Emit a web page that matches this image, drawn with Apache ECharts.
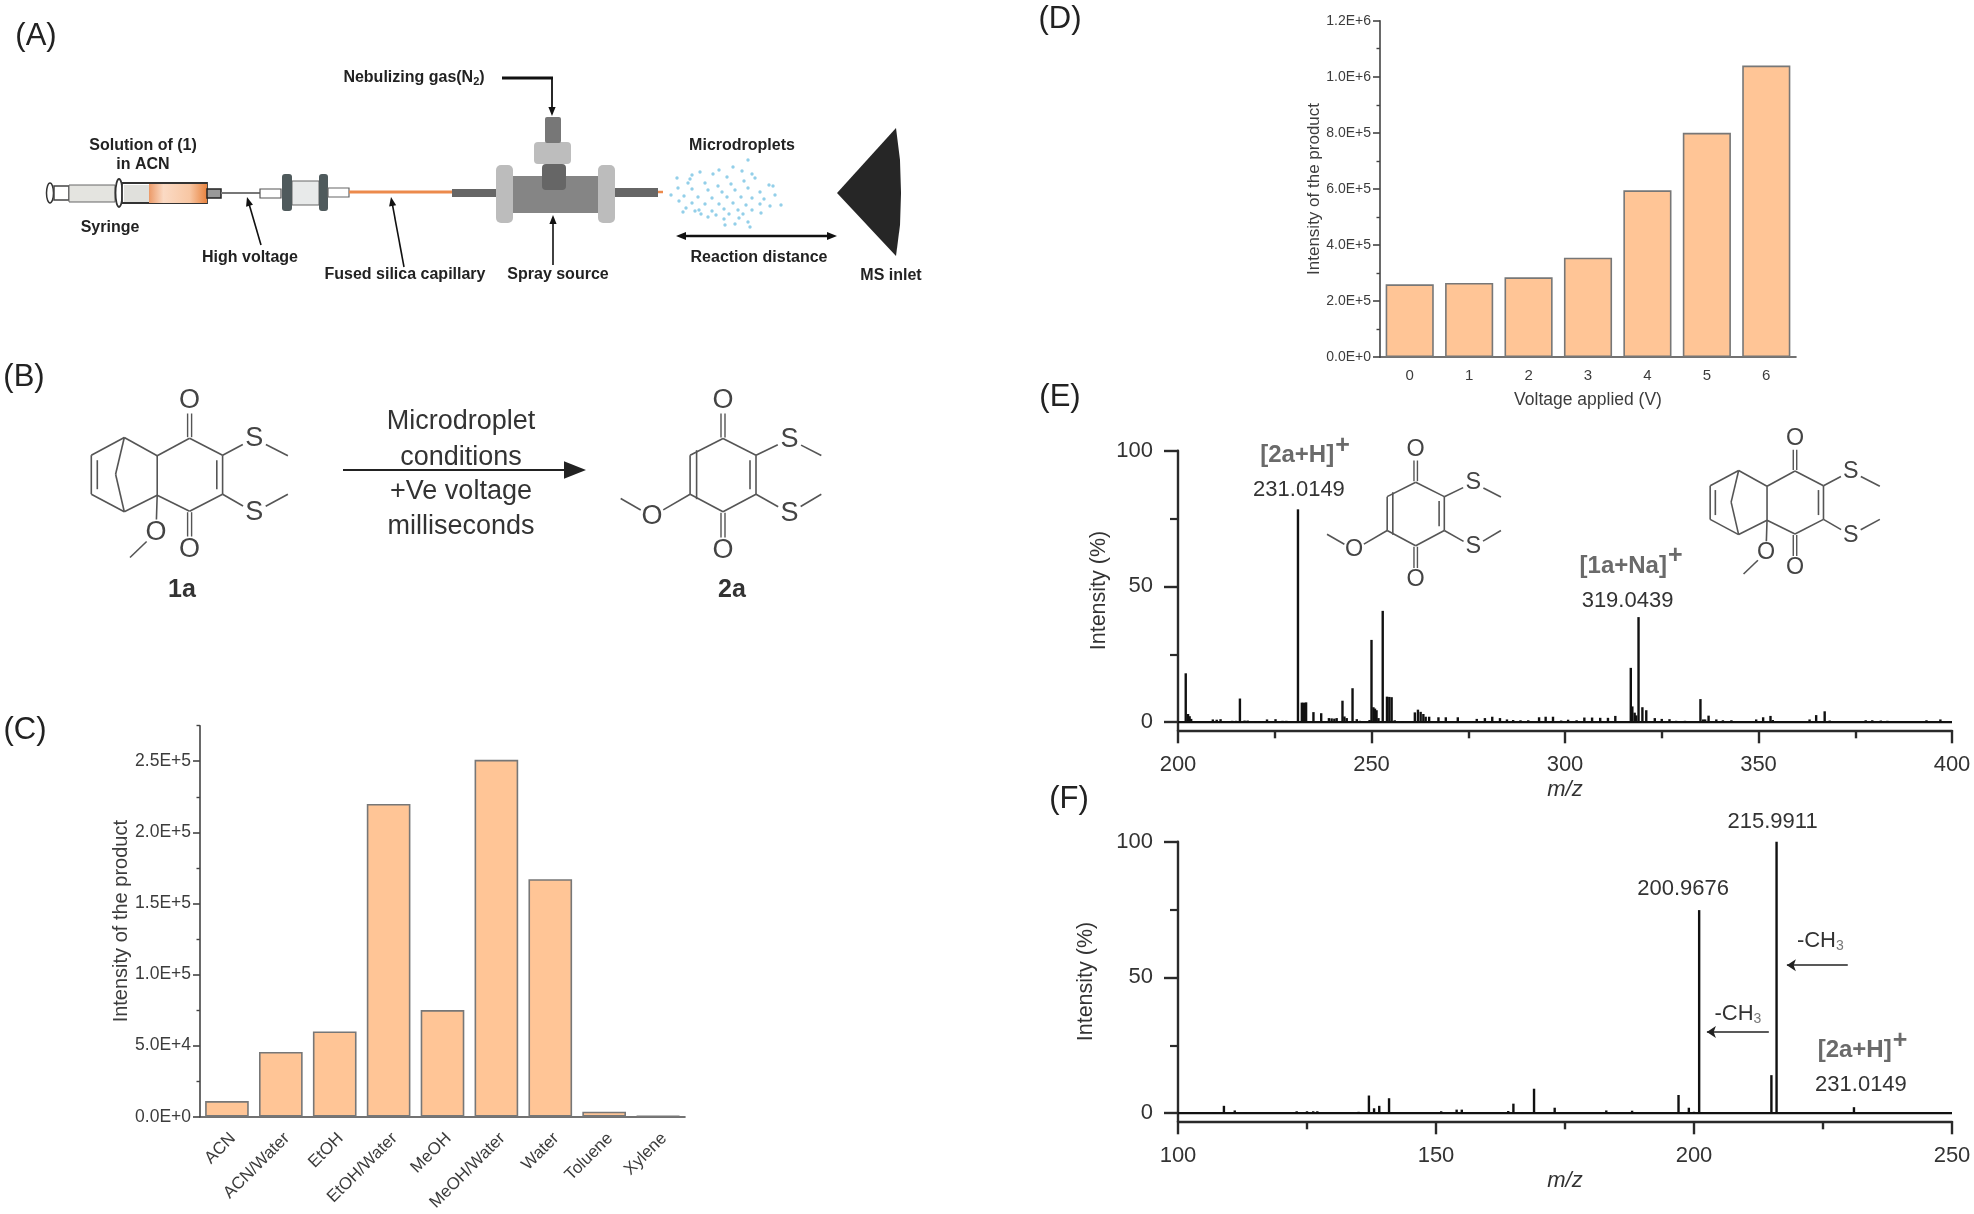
<!DOCTYPE html>
<html><head><meta charset="utf-8">
<style>html,body{margin:0;padding:0;background:#fff}#c{width:1974px;height:1214px}</style>
<script src="https://cdn.jsdelivr.net/npm/echarts@6/dist/echarts.min.js"></script>
</head><body><div id="c"></div>
<script>
// ---------- panel C ----------
const solvents = ['ACN','ACN/Water','EtOH','EtOH/Water','MeOH','MeOH/Water','Water','Toluene','Xylene'];
const solventIntensity = [11000,45500,60000,220000,75000,251000,167000,3500,500];
const cMajorTicks = [0,50000,100000,150000,200000,250000];
const cMinorTicks = [25000,75000,125000,175000,225000,275000];
// ---------- panel D ----------
const voltages = ['0','1','2','3','4','5','6'];
const voltageIntensity = [260000,265000,285000,355000,595000,800000,1040000];
const dMajorTicks = [0,200000,400000,600000,800000,1000000,1200000];
const dMinorTicks = [100000,300000,500000,700000,900000,1100000];
// ---------- panel E spectrum: [m/z, intensity %] ----------
const spectrumE = [[202,18],[202.6,3],[203,2.2],[203.4,1.2],[209,1],[210,.9],[211,1.1],[214,.5],[215,.5],[216,8.7],[217.2,.6],[218,.6],[220,.4],[221,.4],[223,1],[225.2,1.1],[227,.5],[228,.5],[229,.4],[231,78.4],[232,7.2],[232.5,7.2],[233.1,7.3],[235,3.7],[237,3.3],[239,1.5],[239.7,1.4],[240.4,1.3],[241,1.5],[242.5,7.9],[243,2.1],[243.6,1.5],[245.1,12.5],[246.2,1.1],[247,.5],[249.5,.8],[250,30.3],[250.5,5.5],[250.9,5],[251.3,4.4],[251.8,1.5],[252.9,41],[254,9.4],[254.6,9.3],[255.2,9.2],[256,.7],[258,.4],[261.2,3.6],[262,4.6],[262.7,3.8],[263.4,3],[264,2],[264.9,2],[267.3,1.8],[269.2,1.8],[272.3,1.8],[277.2,1.2],[279.3,1.5],[281.2,2],[283.2,1.5],[285,1],[286.6,.8],[288.5,.7],[290.5,.7],[293.3,1.8],[295,2],[296.9,2],[299,.6],[300.8,.9],[303,.7],[305,1.7],[307,1.7],[309.1,1.6],[311.1,1.6],[313,2.3],[317,20],[317.4,5.8],[318,3.5],[318.4,2.5],[319,38.7],[320,5.5],[321,4.4],[323.2,1.5],[325,1.2],[327,1.1],[328.7,.5],[331,.5],[335,8.5],[335.7,1],[336.2,1],[337.1,2.4],[339.1,1],[340.8,.7],[343,.7],[349.4,1],[351.2,1.8],[353.1,2.3],[353.7,.8],[363.2,1],[364.9,2.6],[367.1,4],[368.4,.6],[377.7,.7],[379.4,.7],[381.6,.6],[383.3,.5],[393.4,.7],[397,1]];
// ---------- panel F spectrum ----------
const spectrumF = [[107,.3],[108.9,2.7],[111,1],[113,.3],[123,.7],[125,.7],[126.2,.7],[127,.7],[135,.5],[137,6.5],[138,1.8],[139,2.7],[140.9,5.5],[151,.7],[154,1.3],[155,1.3],[164,.8],[165,3.5],[166.8,.4],[169,9],[173,2],[182,.4],[183,1],[185,.4],[188,.9],[197,6.7],[199,2],[200,.5],[201,74.8],[215,14],[216,100],[231,2.2]];
const spectrumXTicks = {E:[200,400,50],F:[100,250,50]};
const pctMajor = [0,50,100], pctMinor = [25,75];
const peakLabelsE = {231:['[2a+H]','231.0149'],319:['[1a+Na]','319.0439']};
const peakLabelsF = {201:'200.9676',216:'215.9911',231:['[2a+H]','231.0149']};
// neutral-loss arrows in F: [from m/z, to m/z, at intensity]
const lossArrows = [[229.8,218,54.5],[214.5,202.5,29.9]];

const FONT = '"Liberation Sans", Arial, sans-serif';
const AX = '#2a2a2a', TXT='#3c3c3c';

// ---------- illustration helpers ----------
const G = [];
const line=(x1,y1,x2,y2,w=1.5,c='#555')=>G.push({type:'line',shape:{x1,y1,x2,y2},style:{stroke:c,lineWidth:w},silent:true});
const rect=(x,y,w,h,fill,r=0,stroke,lw=1)=>G.push({type:'rect',shape:{x,y,width:w,height:h,r},style:{fill,stroke,lineWidth:lw},silent:true});
const ell=(cx,cy,rx,ry,fill,stroke,lw=1)=>G.push({type:'ellipse',shape:{cx,cy,rx,ry},style:{fill,stroke,lineWidth:lw},silent:true});
const poly=(points,fill)=>G.push({type:'polygon',shape:{points},style:{fill},silent:true});
const text=(t,x,y,size,opts={})=>G.push({type:'text',style:Object.assign({text:t,x,y,fill:opts.fill||'#222',align:opts.align||'center',verticalAlign:'middle',font:`${opts.weight||'normal'} ${size}px ${FONT}`},opts.rich?{rich:opts.rich}:{}),silent:true});
function arrow(x1,y1,x2,y2,w=1.6,h=9,c='#111'){
  const a=Math.atan2(y2-y1,x2-x1),ux=Math.cos(a),uy=Math.sin(a);
  line(x1,y1,x2-ux*h*.7,y2-uy*h*.7,w,c);
  poly([[x2,y2],[x2-ux*h-uy*h*.4,y2-uy*h+ux*h*.4],[x2-ux*h+uy*h*.4,y2-uy*h-ux*h*.4]],c);
}
// ---------- molecules ----------
const mol1a={C1:[0,-37],C2:[33,-20],C3:[33,19],C4:[0,36],C4a:[-32.4,20],C8a:[-32.4,-19.4],C5:[-65.3,-37.7],C6:[-98.3,-20],C7:[-98.3,19],C8:[-65.3,36.6],C9:[-74,-1],
 O1:[0,-74.7,'O'],O2:[0,74.3,'O'],S1:[64.7,-36.7,'S'],S2:[64.7,37.3,'S'],M1:[98.3,-19.4],M2:[98.3,19],O3:[-33.6,57.3,'O'],M3:[-59.6,82.3]};
const bonds1a=[['C1','C2'],['C2','C3'],['C3','C4'],['C4','C4a'],['C4a','C8a'],['C8a','C1'],['C8a','C5'],['C5','C6'],['C6','C7'],['C7','C8'],['C8','C4a'],['C5','C9'],['C9','C8'],['C2','S1'],['S1','M1'],['C3','S2'],['S2','M2'],['C4a','O3'],['O3','M3']];
const ringDbl1a=[['C2','C3',-5.8],['C6','C7',6]];
const mol2a={C1:[0,-36.7],C2:[33,-20],C3:[33,19],C4:[0,36.6],C5:[-32.9,19],C6:[-32.9,-20],
 O1:[0,-74.7,'O'],O2:[0,75.3,'O'],S1:[66.5,-36,'S'],S2:[66.5,38,'S'],M1:[98.3,-19.7],M2:[98.3,19],O3:[-71,41.3,'O'],M3:[-102.3,23.3]};
const bonds2a=[['C1','C2'],['C2','C3'],['C3','C4'],['C4','C5'],['C5','C6'],['C6','C1'],['C2','S1'],['S1','M1'],['C3','S2'],['S2','M2'],['C5','O3'],['O3','M3']];
const ringDbl2a=[['C2','C3',-6],['C5','C6',6.5]];
function drawMol(atoms,bonds,dbl,cx,cy,s,c='#555'){
  const P=n=>atoms[n], X=p=>cx+p[0]*s, Y=p=>cy+p[1]*s;
  const trim=13*s;
  const seg=(a,b)=>{const A=P(a),B=P(b);let x1=X(A),y1=Y(A),x2=X(B),y2=Y(B);const d=Math.hypot(x2-x1,y2-y1),ux=(x2-x1)/d,uy=(y2-y1)/d;
    if(A[2]){x1+=ux*trim;y1+=uy*trim} if(B[2]){x2-=ux*trim;y2-=uy*trim} line(x1,y1,x2,y2,1.6,c);};
  bonds.forEach(b=>seg(b[0],b[1]));
  dbl.forEach(([a,b,dx])=>{const A=P(a),B=P(b);line(X(A)+dx*s,Y(A)+5*s,X(B)+dx*s,Y(B)-5*s,1.6,c);});
  [['C1','O1'],['C4','O2']].forEach(([a,b])=>{const A=P(a),B=P(b),sgn=B[1]>A[1]?1:-1;
    line(X(A)-2*s,Y(A)+sgn*1,X(B)-2*s,Y(B)-sgn*trim,1.4,c);line(X(A)+2*s,Y(A)+sgn*1,X(B)+2*s,Y(B)-sgn*trim,1.4,c);});
  Object.values(atoms).forEach(a=>{if(a[2])text(a[2],X(a),Y(a),27*s,{fill:'#444'});});
}
// ---------- panel letters ----------
[['(A)',36,36],['(B)',24,377],['(C)',25,730],['(D)',1060,19],['(E)',1060,397],['(F)',1069,799]].forEach(l=>text(l[0],l[1],l[2],31,{fill:'#222'}));

// ---------- panel A : apparatus ----------
const dropletPts=[[748,160],[733,167],[719,170],[700,172],[692,175],[713,174],[727,177],[742,171],[752,174],[690,179],[677,178],[688,183],[705,183],[718,186],[731,184],[744,181],[755,178],[769,185],[678,188],[692,189],[708,190],[722,192],[735,190],[748,188],[760,192],[773,186],[671,195],[684,196],[698,197],[712,198],[727,197],[741,197],[752,198],[764,199],[775,195],[679,201],[692,203],[705,204],[719,204],[733,203],[746,205],[760,204],[781,205],[686,208],[699,210],[712,211],[724,209],[738,210],[752,210],[770,206],[701,214],[716,215],[729,214],[743,214],[761,213],[708,217],[724,219],[739,218],[748,222],[725,225],[735,224],[750,227],[695,211],[683,212]];
dropletPts.forEach(p=>G.push({type:'circle',shape:{cx:p[0],cy:p[1],r:1.7},style:{fill:'#93cfe9'},silent:true}));
// syringe
ell(50,193,3.5,10,'#fff','#333',1.5);
rect(54,186,15,14,'#fff',0,'#444',1.5);
rect(69,185,46,17,'#e4e4e0',0,'#666',1);
ell(119,193,3.5,14,'#fff','#333',1.8);
rect(122,183,85,20,'#fff',0,'#333',1.8);
rect(124,185,25,17,'#e0e0dc');
rect(149,184,58,19,{type:'linear',x:0,y:0,x2:1,y2:0,colorStops:[{offset:0,color:'#ec9a68'},{offset:.25,color:'#fbdac4'},{offset:.7,color:'#f8c7a4'},{offset:1,color:'#e8833f'}]});
rect(207,189,14,9,'#999',0,'#222',1.5);
line(221,193,262,193,2,'#777');
rect(260,189,21,9,'#fff',0,'#555',1.2);
// union
rect(292,181,27,24,'#e8eaea',0,'#666',1);
rect(282,174,10,37,'#4f5a5c',3);
rect(319,174,9,37,'#4f5a5c',3);
rect(328,188,21,9,'#fff',0,'#666',1.2);
line(349,192,452,192,3,'#ec8a4c');
// spray source
rect(452,189,49,8,'#666');
rect(609,188,49,9,'#666');
line(658,192,663,192,2.5,'#ec8a4c');
rect(496,165,17,58,'#bcbcbc',5);
rect(598,165,17,58,'#bcbcbc',5);
rect(513,176,85,37,'#858585');
rect(542,164,24,26,'#666',4);
rect(534,142,37,22,'#bdbdbd',4);
rect(545,117,16,26,'#777',2);
// cone
G.push({type:'polygon',shape:{points:[[896,128],[837,193],[896,256],[900,225],[901,193],[900,160]]},style:{fill:'#262626'},silent:true});
// leaders
line(502,78,553,78,3,'#111'); arrow(552,78,552,116,1.8,9);
arrow(553,265,553,215,1.6,9);
arrow(261,245,247,197,1.6,9);
arrow(404,267,391,197,1.6,9);
arrow(690,236,676,236,2.4,10); arrow(690,236,837,236,2.4,10);
const subRich={s:{fontSize:11,fontWeight:'bold',fontFamily:FONT,fill:'#222',verticalAlign:'bottom',padding:[8,0,0,0]}};
text('Nebulizing gas(N{s|2})',414,78,16,{weight:'bold',rich:subRich});
[['Solution of (1)',143,146],['in ACN',143,165],['Syringe',110,228],['High voltage',250,258],['Fused silica capillary',405,275],['Spray source',558,275],['Microdroplets',742,146],['Reaction distance',759,258],['MS inlet',891,276]].forEach(t=>text(t[0],t[1],t[2],16,{weight:'bold'}));

// ---------- panel B : reaction ----------
drawMol(mol1a,bonds1a,ringDbl1a,189.6,475.2,1);
drawMol(mol2a,bonds2a,ringDbl2a,723,475.2,1);
arrow(343,470,586,470,2,22,'#222');
[['Microdroplet',422],['conditions',458],['+Ve voltage',492],['milliseconds',527]].forEach(t=>text(t[0],461,t[1],27,{fill:'#333'}));
text('1a',182,590,25,{weight:'bold',fill:'#333'});
text('2a',732,590,25,{weight:'bold',fill:'#333'});
// panel E insets
drawMol(mol2a,bonds2a,ringDbl2a,1415.7,514,.867);
drawMol(mol1a,bonds1a,ringDbl1a,1795,503,.863);

// ---------- charts ----------
const sci=v=>v.toExponential(1).toUpperCase();
const grids=[
 {left:200,top:725.7,width:485,height:391},   // C
 {left:1380,top:20.7,width:416,height:336.5}, // D
 {left:1178,top:450.7,width:774,height:279.6},    // E
 {left:1178,top:841.7,width:774,height:279.6},     // F
 {left:206,top:725.7,width:485,height:391}    // carries only the slanted solvent names of C
];
const xAxes=[],yAxes=[],series=[];
function barPanel(g,cats,vals,major,minor,maxV,yName,yGap,fs,nameFs,xOpts,barGap,tickLen){
  xAxes.push(Object.assign({type:'category',gridIndex:g,data:cats,axisLine:{lineStyle:{color:'#444',width:1.6}},axisTick:{alignWithLabel:true,length:tickLen,lineStyle:{color:'#444',width:1.6}},
    axisLabel:Object.assign({color:TXT,fontFamily:FONT,interval:0},xOpts.label)},xOpts.axis||{}));
  const xi=xAxes.length-1;
  xAxes.push({type:'category',gridIndex:g,data:cats,axisLine:{show:false},axisLabel:{show:false},axisTick:{alignWithLabel:false,length:4,lineStyle:{color:'#444',width:1.4}}});
  yAxes.push({type:'value',gridIndex:g,min:0,max:maxV,position:'left',splitLine:{show:false},
    axisLine:{show:true,lineStyle:{color:'#444',width:1.6}},
    axisTick:{show:true,length:7,lineStyle:{color:'#444',width:1.6},customValues:major},
    axisLabel:{color:TXT,fontFamily:FONT,fontSize:fs,margin:9,formatter:sci,customValues:major},
    name:yName,nameLocation:'middle',nameGap:yGap,nameTextStyle:{color:TXT,fontFamily:FONT,fontSize:nameFs}});
  const yi=yAxes.length-1;
  yAxes.push({type:'value',gridIndex:g,min:0,max:maxV,position:'left',splitLine:{show:false},axisLine:{show:false},axisLabel:{show:false},
    axisTick:{show:true,length:3.5,lineStyle:{color:'#444',width:1.4},customValues:minor}});
  series.push({type:'bar',xAxisIndex:xi,yAxisIndex:yi,data:vals,barCategoryGap:barGap,itemStyle:{color:'#FFC596',borderColor:'#777',borderWidth:1.6},silent:true});
}
barPanel(0,solvents,solventIntensity,cMajorTicks,cMinorTicks,275000,'Intensity of the product',62,17.5,20,{label:{show:false}},'19%',8);
barPanel(1,voltages,voltageIntensity,dMajorTicks,dMinorTicks,1200000,'Intensity of the product',56,14,17,{label:{fontSize:15,margin:11},axis:{name:'Voltage applied (V)',nameLocation:'middle',nameGap:34,nameTextStyle:{color:TXT,fontFamily:FONT,fontSize:17.5}}},'19%',6);

function peakData(spec,labels,offsets,aPad){
  return spec.map(p=>{
    const l=labels[p[0]];
    if(!l) return p;
    const two=Array.isArray(l), off=offsets[p[0]]||[0,0];
    return {value:p,label:{show:true,position:'top',distance:5,offset:off,
      formatter:two?`{a|${l[0]}}{p|+}\n{b|${l[1]}}`:`{b|${l}}`,
      rich:{a:{fontSize:24,fontWeight:'bold',fontFamily:FONT,color:'#6a6a6a',lineHeight:44,verticalAlign:'middle',padding:[0,0,0,aPad[p[0]]||0]},
            p:{fontSize:25,fontWeight:'bold',fontFamily:FONT,color:'#6a6a6a',lineHeight:44,verticalAlign:'top',padding:[0,0,0,1]},
            b:{fontSize:22,fontFamily:FONT,color:'#333',lineHeight:26}}}};
  });
}
function specPanel(g,ticks,spec,labels,offsets,aPad,yGap,extra){
  xAxes.push({type:'value',gridIndex:g,min:ticks[0],max:ticks[1],interval:ticks[2],position:'bottom',splitLine:{show:false},
    axisLine:{onZero:false,lineStyle:{color:AX,width:2.4}},
    axisTick:{length:13,lineStyle:{color:AX,width:2.4}},
    minorTick:{show:true,splitNumber:2,length:8,lineStyle:{color:AX,width:2.4}},minorSplitLine:{show:false},
    axisLabel:{color:'#333',fontFamily:FONT,fontSize:22,margin:24},
    name:'m/z',nameLocation:'middle',nameGap:49,nameTextStyle:{color:'#333',fontFamily:FONT,fontSize:22,fontStyle:'italic'}});
  const xi=xAxes.length-1;
  yAxes.push({type:'value',gridIndex:g,min:-3,max:100,position:'left',splitLine:{show:false},
    axisLine:{onZero:false,lineStyle:{color:AX,width:2.4}},
    axisTick:{length:14,lineStyle:{color:AX,width:2.4},customValues:pctMajor},
    axisLabel:{color:'#333',fontFamily:FONT,fontSize:22,margin:25,customValues:pctMajor},
    name:'Intensity (%)',nameLocation:'middle',nameGap:yGap,nameTextStyle:{color:'#333',fontFamily:FONT,fontSize:21.5}});
  const yi=yAxes.length-1;
  yAxes.push({type:'value',gridIndex:g,min:-3,max:100,position:'left',splitLine:{show:false},axisLine:{show:false},axisLabel:{show:false},
    axisTick:{length:8,lineStyle:{color:AX,width:2.2},customValues:pctMinor}});
  series.push({type:'line',xAxisIndex:xi,yAxisIndex:yi,data:[[ticks[0],0],[ticks[1],0]],showSymbol:false,lineStyle:{color:'#111',width:2.4},silent:true,z:3,...(extra||{})});
  series.push({type:'bar',xAxisIndex:xi,yAxisIndex:yi,data:peakData(spec,labels,offsets,aPad),barWidth:2.4,itemStyle:{color:'#111'},silent:true,z:4});
}
specPanel(2,spectrumXTicks.E,spectrumE,peakLabelsE,{231:[1,-1],319:[-11,2]},{231:12,319:7},68);
specPanel(3,spectrumXTicks.F,spectrumF,peakLabelsF,{201:[-16,-3],216:[-4,-2],231:[7,-4]},{231:3},81,{
  markLine:{silent:true,animation:false,symbol:['none','arrow'],symbolSize:9,lineStyle:{color:'#222',width:1.6,type:'solid'},
    label:{show:true,position:'middle',distance:6,formatter:'{m|-CH}{s|3}',
      rich:{m:{fontSize:22,fontFamily:FONT,color:'#333'},s:{fontSize:14,fontFamily:FONT,color:'#777',verticalAlign:'bottom',padding:[10,0,0,0]}}},
    data:lossArrows.map((a,i)=>[{coord:[a[0],a[2]],label:i==0?{distance:12,offset:[3,0]}:{}},{coord:[a[1],a[2]]}])}});
// slanted solvent names
xAxes.push({type:'category',gridIndex:4,data:solvents,axisLine:{show:false},axisTick:{show:false},
  axisLabel:{color:TXT,fontFamily:FONT,fontSize:17,rotate:45,margin:19,interval:0}});
yAxes.push({type:'value',gridIndex:4,show:false,min:0,max:1});
series.push({type:'bar',xAxisIndex:xAxes.length-1,yAxisIndex:yAxes.length-1,data:[],silent:true});

const chart=echarts.init(document.getElementById('c'),null,{width:1974,height:1214,renderer:'canvas'});
chart.setOption({animation:false,backgroundColor:'#fff',textStyle:{fontFamily:FONT},tooltip:{show:false},grid:grids,xAxis:xAxes,yAxis:yAxes,series,graphic:{elements:G}});
</script></body></html>
